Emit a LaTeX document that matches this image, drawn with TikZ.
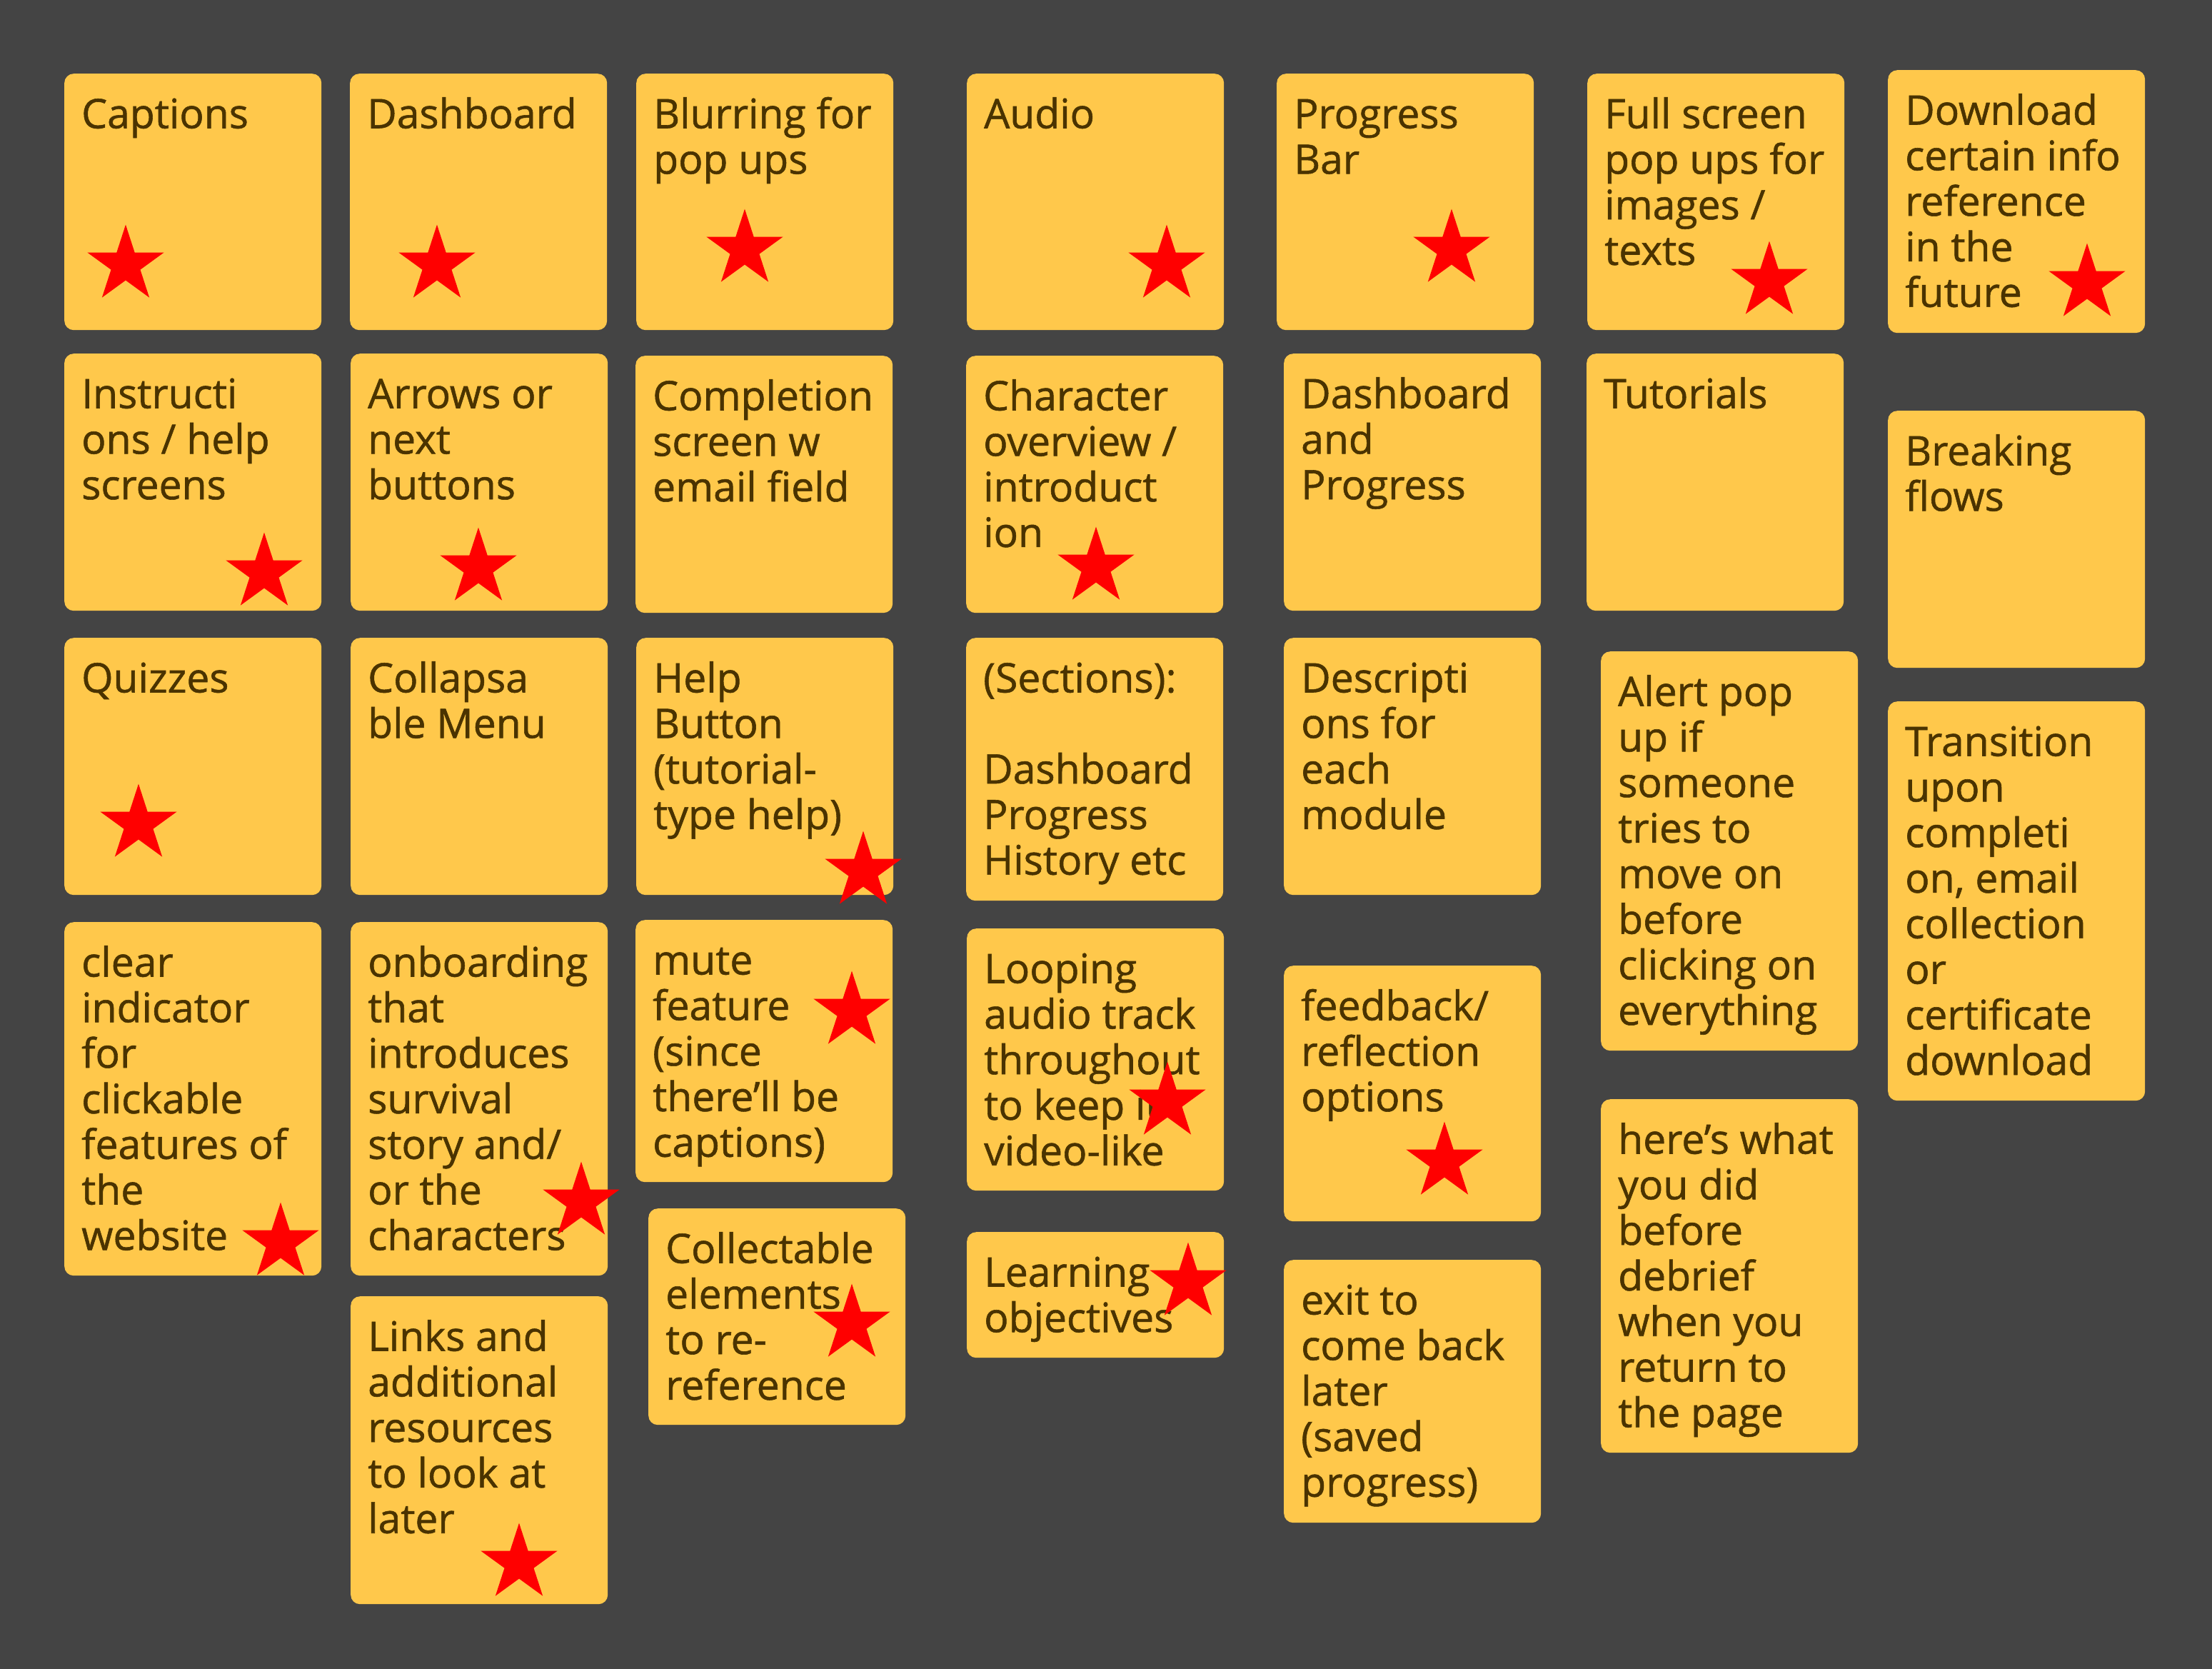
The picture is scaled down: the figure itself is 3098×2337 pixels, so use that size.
\documentclass[tikz,border=0pt]{standalone}
\usepackage{fontspec}
\setmainfont{Open Sans}
\newfontfamily\stickyfont{Open Sans}[FakeBold=1]
\usetikzlibrary{shapes.geometric}
\definecolor{bgc}{HTML}{444444}
\definecolor{stickyc}{HTML}{FFC84B}
\definecolor{inkc}{HTML}{4A3300}
\definecolor{starc}{HTML}{FF0000}
\tikzset{
  stickybox/.style={fill=stickyc, rounded corners=13pt, anchor=north west, inner sep=0pt, minimum width=360pt, draw=none},
  stickytext/.style={anchor=base west, inner sep=0pt, text=inkc, font=\stickyfont\fontsize{57}{63.8}\selectfont},
  redstar/.style={star, star points=5, star point ratio=2.618, fill=starc, minimum size=112.8pt, inner sep=0pt, draw=none},
}
\newcommand\stickynote[5]{%
  \node[stickybox, minimum height=#4pt] (#1) at (#2,#3) {};
  \node[stickytext] (#1-text) at ([xshift=24pt,yshift=-76.5pt]#1.north west) {\parbox[t]{340pt}{\raggedright #5}};
}
\begin{document}
\begin{tikzpicture}[x=1pt,y=-1pt]
\fill[bgc] (0,0) rectangle (3098,2337);
\useasboundingbox (0,0) rectangle (3098,2337);

% row 1
\stickynote{captions}{90}{103}{359}{Captions}
\stickynote{dash}{490}{103}{359}{Dashboard}
\stickynote{blur}{891}{103}{359}{Blurring for\\pop ups}
\stickynote{audio}{1354}{103}{359}{Audio}
\stickynote{progbar}{1788}{103}{359}{Progress\\Bar}
\stickynote{fullscr}{2223}{103}{359}{Full screen\\pop ups for\\images /\\texts}
\stickynote{download}{2644}{98}{368}{Download\\certain info\\reference\\in the\\future}

% row 2
\stickynote{instr}{90}{495}{360}{Instructi\\ons / help\\screens}
\stickynote{arrows}{491}{495}{360}{Arrows or\\next\\buttons}
\stickynote{complete}{890}{498}{360}{Completion\\screen w\\email field}
\stickynote{charov}{1353}{498}{360}{Character\\overview /\\introduct\\ion}
\stickynote{dashprog}{1798}{495}{360}{Dashboard\\and\\Progress}
\stickynote{tutorials}{2222}{495}{360}{Tutorials}
\stickynote{breaking}{2644}{575}{360}{Breaking\\flows}

% row 3
\stickynote{quizzes}{90}{893}{360}{Quizzes}
\stickynote{collapse}{491}{893}{360}{Collapsa\\ble Menu}
\stickynote{helpbtn}{891}{893}{360}{Help\\Button\\(tutorial-\\type help)}
\stickynote{sections}{1353}{893}{368}{(Sections):\\~\\Dashboard\\Progress\\History etc}
\stickynote{descr}{1798}{893}{360}{Descripti\\ons for\\each\\module}
\stickynote{alert}{2242}{912}{559}{Alert pop\\up if\\someone\\tries to\\move on\\before\\clicking on\\everything}
\stickynote{transition}{2644}{982}{559}{Transition\\upon\\completi\\on, email\\collection\\or\\certificate\\download}

% row 4
\stickynote{clear}{90}{1291}{495}{clear\\indicator\\for\\clickable\\features of\\the\\website}
\stickynote{onboard}{491}{1291}{495}{onboarding\\that\\introduces\\survival\\story and/\\or the\\characters}
\stickynote{links}{491}{1815}{431}{Links and\\additional\\resources\\to look at\\later}
\stickynote{mute}{890}{1288}{367}{mute\\feature\\(since\\there’ll be\\captions)}
\stickynote{collect}{908}{1692}{303}{Collectable\\elements\\to re-\\reference}
\stickynote{looping}{1354}{1300}{367}{Looping\\audio track\\throughout\\to keep it\\video-like}
\stickynote{learning}{1354}{1725}{176}{Learning\\objectives}
\stickynote{feedback}{1798}{1352}{358}{feedback/\\reflection\\options}
\stickynote{exitnote}{1798}{1764}{368}{exit to\\come back\\later\\(saved\\progress)}
\stickynote{heres}{2242}{1539}{495}{here’s what\\you did\\before\\debrief\\when you\\return to\\the page}

% stars
\node[redstar] (captions-star) at (176,371) {};
\node[redstar] (dash-star) at (612,371) {};
\node[redstar] (blur-star) at (1043,349) {};
\node[redstar] (audio-star) at (1634,371) {};
\node[redstar] (progbar-star) at (2033,349) {};
\node[redstar] (fullscr-star) at (2478,394) {};
\node[redstar] (download-star) at (2923,397) {};
\node[redstar] (instr-star) at (370,802) {};
\node[redstar] (arrows-star) at (670,795) {};
\node[redstar] (charov-star) at (1535,794) {};
\node[redstar] (quizzes-star) at (194,1154) {};
\node[redstar] (helpbtn-star) at (1209,1220) {};
\node[redstar] (clear-star) at (393,1740) {};
\node[redstar] (onboard-star) at (814,1683) {};
\node[redstar] (links-star) at (727,2189) {};
\node[redstar] (mute-star) at (1193,1416) {};
\node[redstar] (collect-star) at (1193,1854) {};
\node[redstar] (looping-star) at (1635,1543) {};
\node[redstar] (learning-star) at (1664,1796) {};
\node[redstar] (feedback-star) at (2023,1627) {};
\end{tikzpicture}
\end{document}
